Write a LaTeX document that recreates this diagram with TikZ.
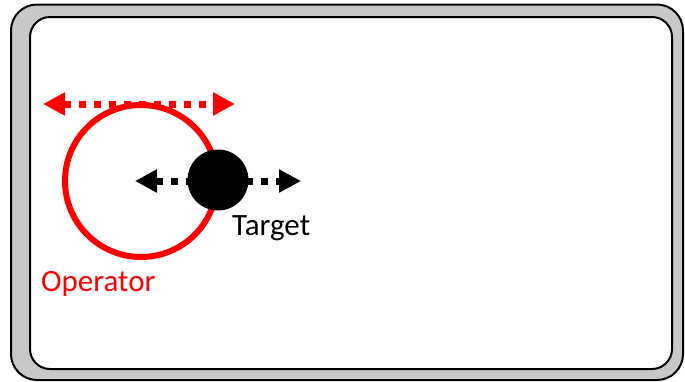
\documentclass[tikz,border=0pt]{standalone}
\usepackage{fontspec}
\setmainfont{Carlito}
\usepackage{tikz}
\usetikzlibrary{arrows.meta,positioning}
\definecolor{frameGray}{RGB}{200,200,200}
\definecolor{opRed}{RGB}{255,0,0}

\begin{document}
\begin{tikzpicture}[
    x=1pt, y=-1pt,
    every node/.style={font=\fontsize{31}{33}\selectfont},
    outerframe/.style={draw=black, line width=2pt, fill=frameGray, rounded corners=26pt},
    innerframe/.style={draw=black, line width=2pt, fill=white, rounded corners=20pt},
    opcircle/.style={circle, draw=opRed, line width=6pt, minimum size=152pt, inner sep=0pt},
    tgcircle/.style={circle, fill=black, minimum size=61pt, inner sep=0pt},
    motion/.style={{Triangle[length=22pt,width=22pt]}-{Triangle[length=22pt,width=22pt]},
        line width=7pt, dash pattern=on 7pt off 8pt},
    ]
    \useasboundingbox (0,0) rectangle (685,381);
    % Frame
    \draw[outerframe] (11,4.5) rectangle (683,380);
    \draw[innerframe] (30,17) rectangle (672,369);
    % Arrow ends
    \coordinate (opL) at (43,104);
    \coordinate (opR) at (235,104);
    \coordinate (tgL) at (135,181);
    \coordinate (tgR) at (301,181);
    % Arrows
    \draw[motion, opRed] (opL) -- (opR);
    \draw[motion, black] (tgL) -- (tgR);
    % Operator and target
    \node[opcircle] (op) at (141,181) {};
    \node[tgcircle] (tg) at (218,180) {};
    \node[anchor=north west, inner sep=0pt] (tglabel) at (232,215) {Target};
    \node[anchor=north west, inner sep=0pt, text=opRed] (oplabel) at (41,271) {Operator};
\end{tikzpicture}
\end{document}
